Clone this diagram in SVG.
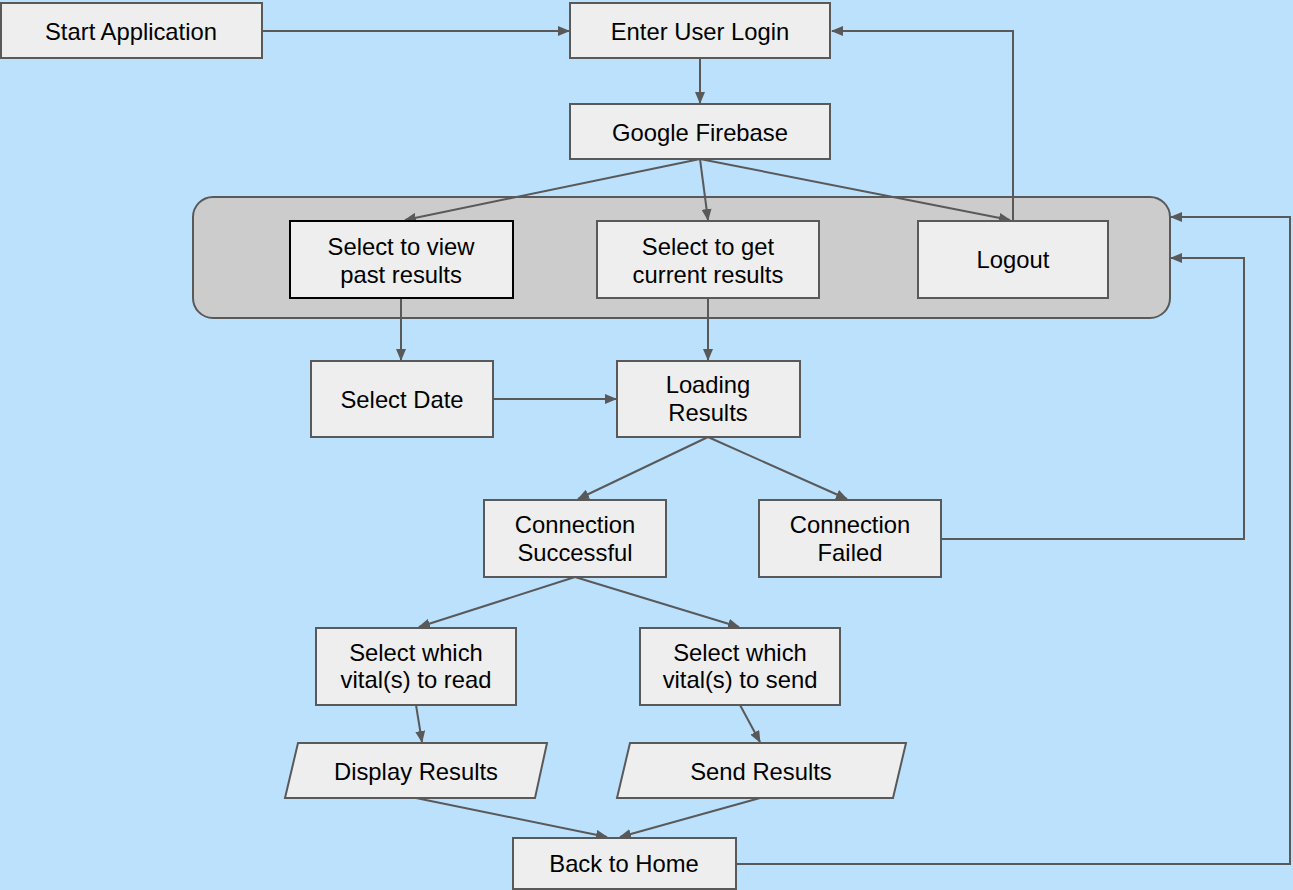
<svg xmlns="http://www.w3.org/2000/svg" width="1293" height="890" viewBox="0 0 1293 890">
  <defs>
    <marker id="arrow" viewBox="0 0 12 10" refX="11" refY="5" markerWidth="12" markerHeight="10" markerUnits="userSpaceOnUse" orient="auto">
      <path d="M0,0 L12,5 L0,10 Z" fill="#595959"/>
    </marker>
    <style>
      .box { fill: #eeeeee; stroke: #595959; stroke-width: 2; }
      .box-dark { fill: #eeeeee; stroke: #000000; stroke-width: 2; }
      .group { fill: #cccccc; stroke: #595959; stroke-width: 2; }
      .lbl { font-family: "Liberation Sans", Arial, Helvetica, sans-serif; font-size: 23.8px; fill: #000000; text-anchor: middle; }
      .edge { fill: none; stroke: #595959; stroke-width: 2; }
      .arr { marker-end: url(#arrow); }
    </style>
  </defs>

  <rect x="0" y="0" width="1293" height="890" fill="#bbe1fd"/>

  <!-- container for the three menu choices -->
  <g id="menu-group">
    <rect class="group" x="193" y="197" width="977" height="121" rx="20" ry="20"/>
  </g>

  <g id="connectors">
    <line class="edge arr" x1="262" y1="31" x2="569" y2="31"/>
    <line class="edge arr" x1="700" y1="58" x2="700" y2="103"/>
    <line class="edge arr" x1="700" y1="159" x2="405" y2="220"/>
    <line class="edge arr" x1="700" y1="159" x2="708" y2="220"/>
    <line class="edge arr" x1="700" y1="159" x2="1010" y2="220"/>
    <polyline class="edge arr" points="1013,221 1013,31 832,31"/>
    <line class="edge arr" x1="401" y1="298" x2="401" y2="360"/>
    <line class="edge arr" x1="708" y1="298" x2="708" y2="360"/>
    <line class="edge arr" x1="493" y1="399" x2="616" y2="399"/>
    <line class="edge arr" x1="708" y1="437" x2="578" y2="499"/>
    <line class="edge arr" x1="708" y1="437" x2="847" y2="499"/>
    <polyline class="edge arr" points="941,539 1244,539 1244,258 1171,258"/>
    <line class="edge arr" x1="575" y1="577" x2="419" y2="627"/>
    <line class="edge arr" x1="575" y1="577" x2="739" y2="627"/>
    <line class="edge arr" x1="416" y1="705" x2="422" y2="742"/>
    <line class="edge arr" x1="740" y1="705" x2="760" y2="742"/>
    <line class="edge arr" x1="416" y1="798" x2="607" y2="837"/>
    <line class="edge arr" x1="760" y1="798" x2="620" y2="837"/>
    <polyline class="edge arr" points="736,864 1290,864 1290,217 1171,217"/>
  </g>

  <g id="start-application">
    <rect class="box" x="1" y="3" width="261" height="55"/>
    <text class="lbl" x="131" y="40">Start Application</text>
  </g>

  <g id="enter-user-login">
    <rect class="box" x="570" y="3" width="260" height="55"/>
    <text class="lbl" x="700" y="40">Enter User Login</text>
  </g>

  <g id="google-firebase">
    <rect class="box" x="570" y="104" width="260" height="55"/>
    <text class="lbl" x="700" y="141">Google Firebase</text>
  </g>

  <g id="view-past-results">
    <rect class="box-dark" x="290" y="221" width="223" height="77"/>
    <text class="lbl" x="401" y="255">Select to view</text>
    <text class="lbl" x="401" y="283">past results</text>
  </g>

  <g id="get-current-results">
    <rect class="box" x="597" y="221" width="222" height="77"/>
    <text class="lbl" x="708" y="255">Select to get</text>
    <text class="lbl" x="708" y="283">current results</text>
  </g>

  <g id="logout">
    <rect class="box" x="918" y="221" width="190" height="77"/>
    <text class="lbl" x="1013" y="268">Logout</text>
  </g>

  <g id="select-date">
    <rect class="box" x="311" y="361" width="182" height="76"/>
    <text class="lbl" x="402" y="408">Select Date</text>
  </g>

  <g id="loading-results">
    <rect class="box" x="617" y="361" width="183" height="76"/>
    <text class="lbl" x="708" y="393">Loading</text>
    <text class="lbl" x="708" y="421">Results</text>
  </g>

  <g id="connection-successful">
    <rect class="box" x="484" y="500" width="182" height="77"/>
    <text class="lbl" x="575" y="533">Connection</text>
    <text class="lbl" x="575" y="561">Successful</text>
  </g>

  <g id="connection-failed">
    <rect class="box" x="759" y="500" width="182" height="77"/>
    <text class="lbl" x="850" y="533">Connection</text>
    <text class="lbl" x="850" y="561">Failed</text>
  </g>

  <g id="vitals-to-read">
    <rect class="box" x="316" y="628" width="200" height="77"/>
    <text class="lbl" x="416" y="661">Select which</text>
    <text class="lbl" x="416" y="688">vital(s) to read</text>
  </g>

  <g id="vitals-to-send">
    <rect class="box" x="640" y="628" width="200" height="77"/>
    <text class="lbl" x="740" y="661">Select which</text>
    <text class="lbl" x="740" y="688">vital(s) to send</text>
  </g>

  <g id="display-results">
    <polygon class="box" points="298,743 547,743 535,798 285,798"/>
    <text class="lbl" x="416" y="780">Display Results</text>
  </g>

  <g id="send-results">
    <polygon class="box" points="630,743 906,743 893,798 617,798"/>
    <text class="lbl" x="761" y="780">Send Results</text>
  </g>

  <g id="back-to-home">
    <rect class="box" x="513" y="838" width="223" height="51"/>
    <text class="lbl" x="624" y="872">Back to Home</text>
  </g>
</svg>
